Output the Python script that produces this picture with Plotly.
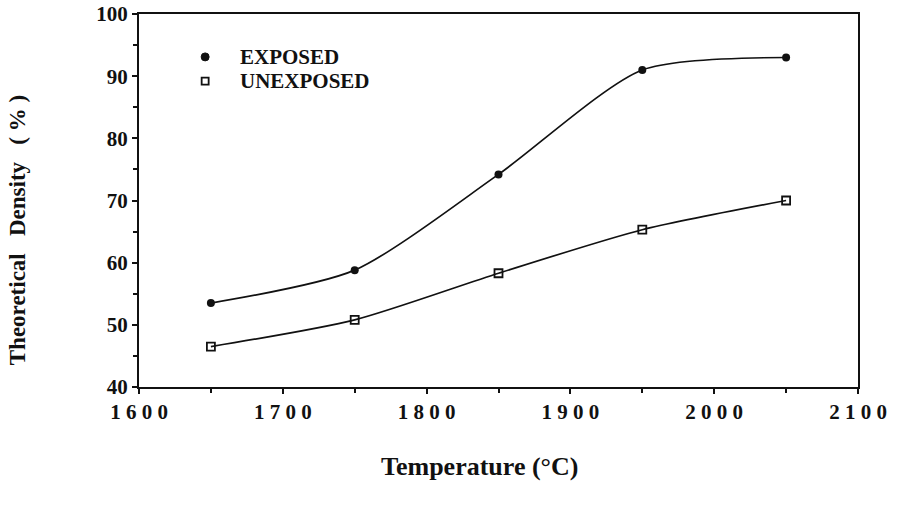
import plotly.graph_objects as go

# Sintering temperature (°C) and theoretical density (%)
temperature = [1650, 1750, 1850, 1950, 2050]
exposed = [53.5, 58.8, 74.2, 91.0, 93.0]
unexposed = [46.5, 50.8, 58.3, 65.3, 70.0]

x_ticks = [1600, 1700, 1800, 1900, 2000, 2100]
x_tick_labels = ["1 6 0 0", "1 7 0 0", "1 8 0 0", "1 9 0 0", "2 0 0 0", "2 1 0 0"]
y_ticks = [40, 50, 60, 70, 80, 90, 100]
series_names = ["EXPOSED", "UNEXPOSED"]

FONT = "Liberation Serif"
ink = "#111111"

fig = go.Figure()

fig.add_trace(go.Scatter(
    x=temperature, y=exposed, mode="lines+markers", name=series_names[0],
    line=dict(color=ink, width=1.7, shape="spline", smoothing=0.7),
    marker=dict(symbol="circle", size=8, color=ink),
    showlegend=False,
))
fig.add_trace(go.Scatter(
    x=temperature, y=unexposed, mode="lines+markers", name=series_names[1],
    line=dict(color=ink, width=1.7, shape="spline", smoothing=0.7),
    marker=dict(symbol="square-open", size=8, color=ink, line=dict(width=1.8)),
    showlegend=False,
))

axis_common = dict(
    showgrid=False, zeroline=False, showline=True, linecolor=ink, linewidth=2,
    ticks="outside", ticklen=5, tickwidth=2, tickcolor=ink, mirror=True,
    automargin=False,
    tickfont=dict(family=FONT, size=21, color=ink, weight="bold"),
)

fig.update_xaxes(
    range=[1600, 2100], tickvals=x_ticks, ticktext=x_tick_labels,
    minor=dict(dtick=50, ticks="outside", ticklen=4, tickwidth=1.5, tickcolor=ink),
    **axis_common,
)
fig.update_yaxes(
    range=[40, 100], tickvals=y_ticks,
    minor=dict(dtick=5, ticks="outside", ticklen=4, tickwidth=1.5, tickcolor=ink),
    **axis_common,
)

# hand-placed key in the upper-left corner of the plot
key_x = 0.092
key_rows = [0.885, 0.820]
fig.add_shape(
    type="circle", xref="paper", yref="paper",
    xsizemode="pixel", ysizemode="pixel", xanchor=key_x, yanchor=key_rows[0],
    x0=-4, x1=4, y0=-4, y1=4, fillcolor=ink, line=dict(color=ink, width=1),
)
fig.add_shape(
    type="rect", xref="paper", yref="paper",
    xsizemode="pixel", ysizemode="pixel", xanchor=key_x, yanchor=key_rows[1],
    x0=-3.5, x1=3.5, y0=-3.5, y1=3.5, fillcolor="white", line=dict(color=ink, width=1.8),
)
for name, row in zip(series_names, key_rows):
    fig.add_annotation(
        text=name, xref="paper", yref="paper", x=0.137, y=row,
        xanchor="left", yanchor="middle", showarrow=False,
        font=dict(family=FONT, size=21, color=ink, weight="bold"),
    )

fig.add_annotation(
    text="Temperature (°C)", xref="paper", yref="paper",
    x=0.474, y=-0.212, yanchor="middle", showarrow=False,
    font=dict(family=FONT, size=26, color=ink, weight="bold"),
)
fig.add_annotation(
    text="Theoretical\u00a0\u00a0\u00a0Density\u00a0\u00a0\u00a0(\u00a0%\u00a0)",
    xref="paper", yref="paper",
    x=-0.19, y=0.42, textangle=-90, showarrow=False,
    font=dict(family=FONT, size=23, color=ink, weight="bold"),
)

fig.update_layout(
    width=897, height=508,
    margin=dict(l=139, r=39, t=14, b=121),
    paper_bgcolor="white", plot_bgcolor="white",
    showlegend=False,
)

fig.write_html("out.html")
